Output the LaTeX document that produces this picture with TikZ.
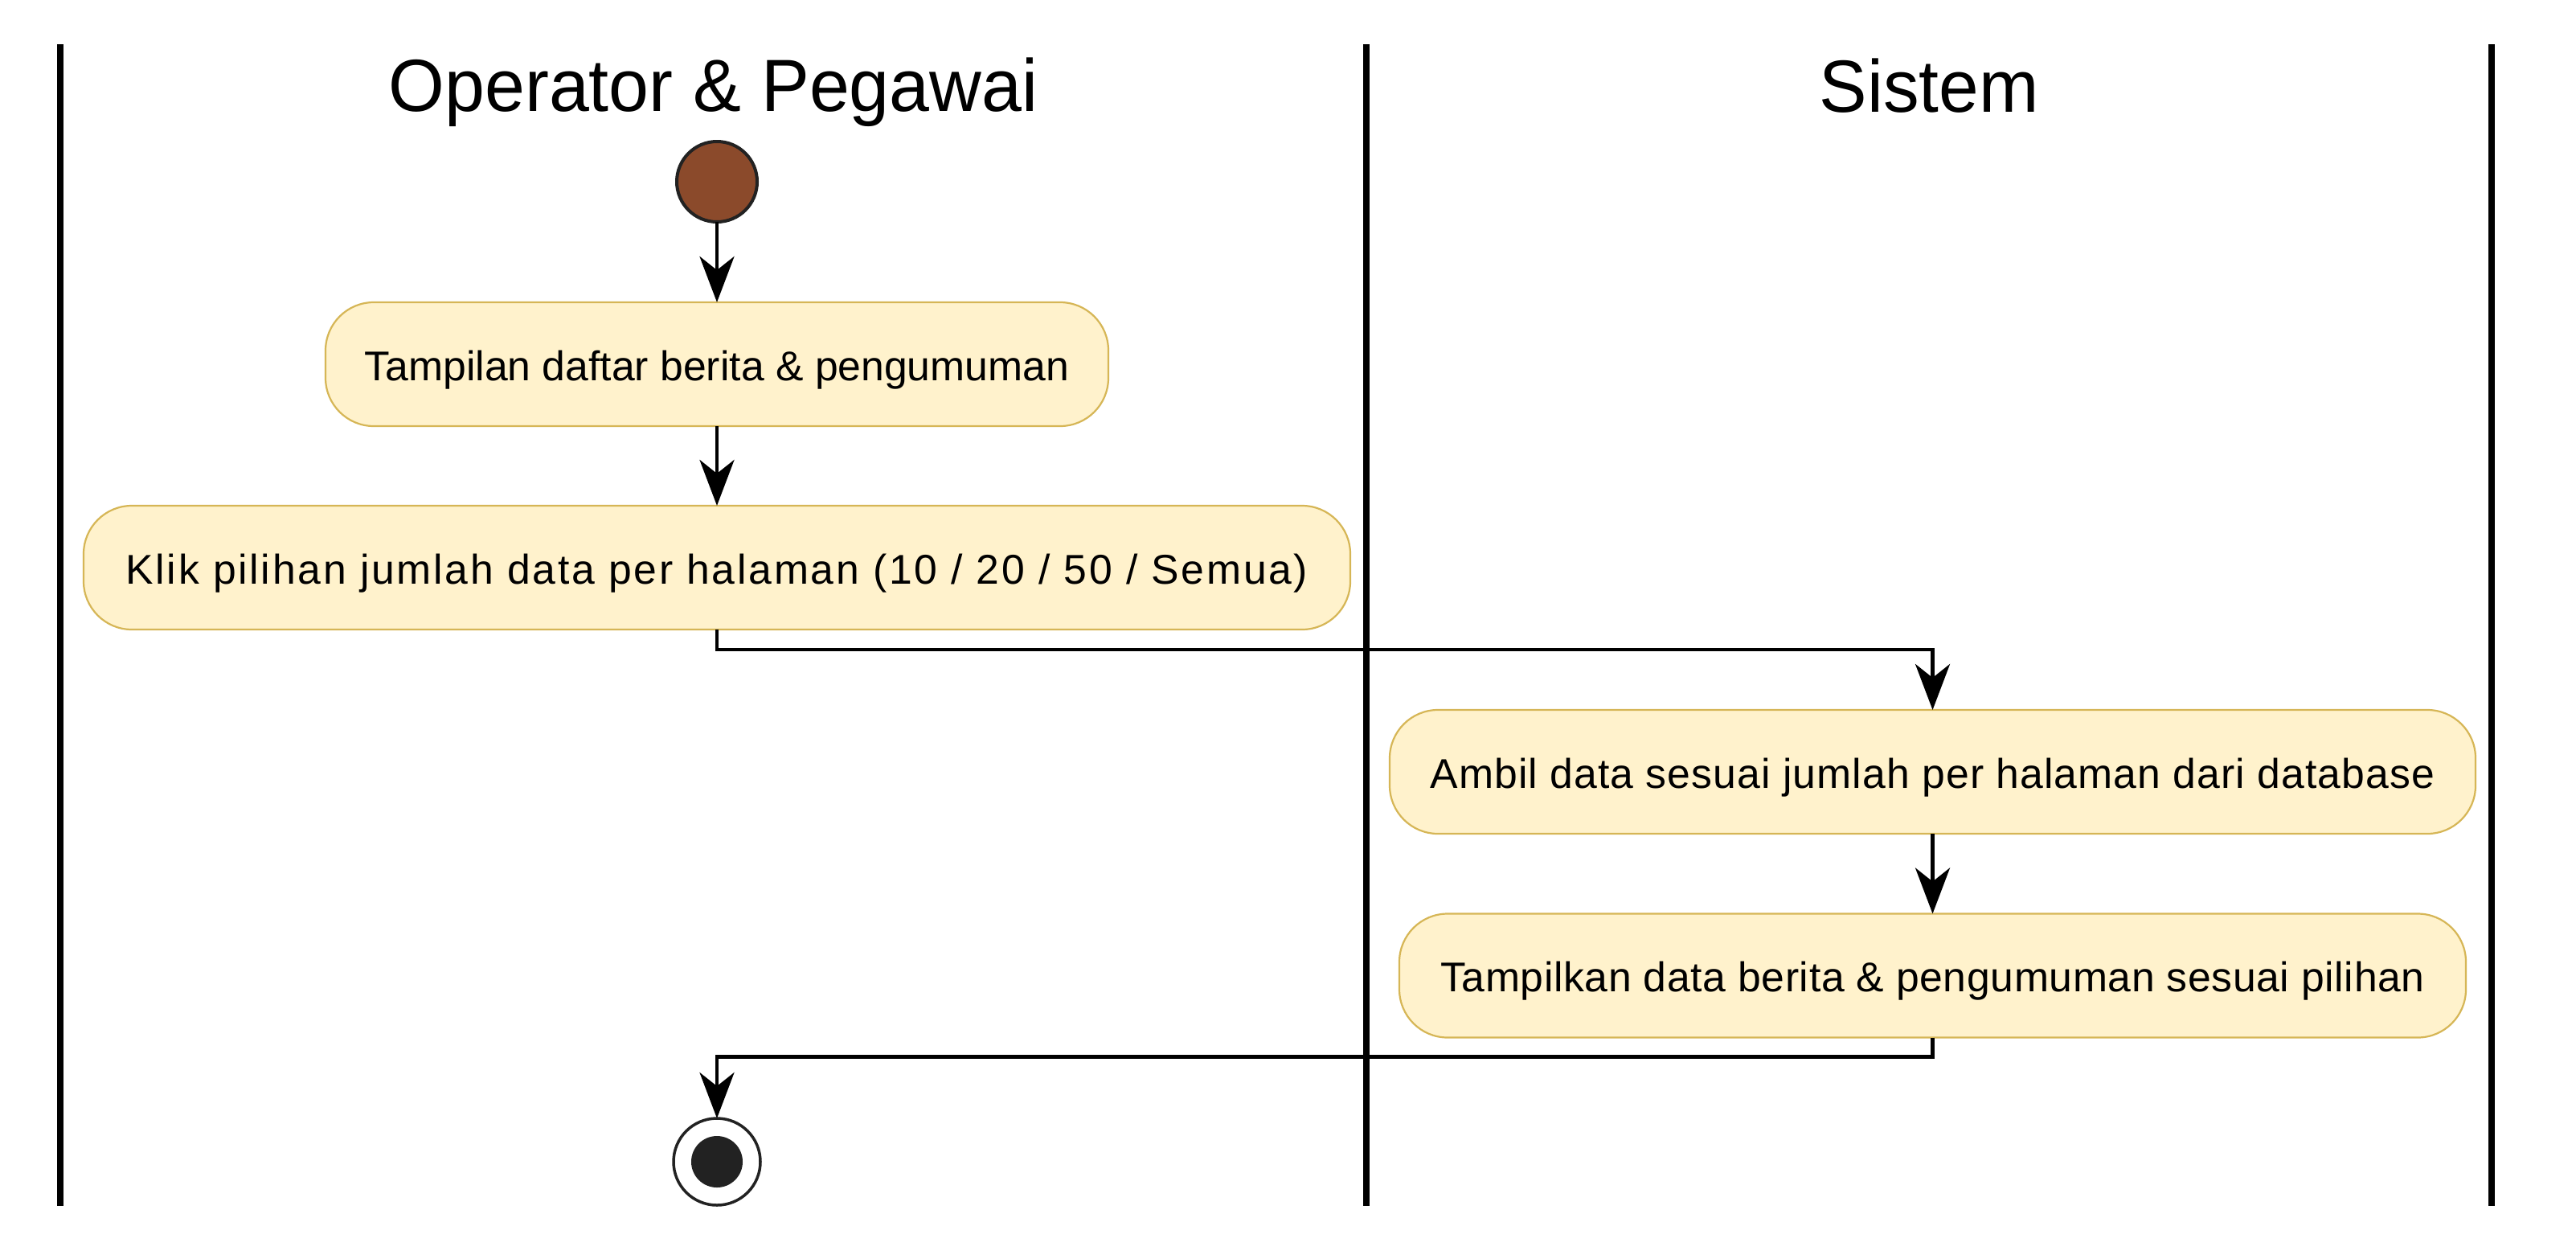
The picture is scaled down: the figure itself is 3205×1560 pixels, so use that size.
\documentclass[tikz,border=0pt]{standalone}
\usepackage{graphicx}
\usepackage{fontspec}
\setmainfont{Liberation Sans}
\usetikzlibrary{arrows.meta}
\definecolor{actfill}{HTML}{FFF2CC}
\definecolor{actline}{HTML}{D6B656}
\definecolor{startfill}{HTML}{8B4A2B}
\definecolor{darkink}{HTML}{222222}
\newcommand\actfont{\fontsize{25.85pt}{31pt}\selectfont}
\newcommand\lanefont{\fontsize{46pt}{54pt}\selectfont}
\begin{document}
\begin{tikzpicture}[x=0.5pt,y=-0.5pt,
  act/.style={draw=actline, line width=1.1pt, fill=actfill, rounded corners=30pt,
    minimum height=77pt, inner sep=0pt, outer sep=0pt,
    text height=20pt, text depth=0pt, font=\actfont},
  flow/.style={line width=2.4pt, draw=black,
    -{Stealth[length=28.5pt,width=21.5pt,inset=8.5pt]}},
  laneline/.style={line width=4pt, draw=black},
  lanetitle/.style={anchor=base, font=\lanefont},
  startnode/.style={circle, draw=darkink, line width=2pt, fill=startfill,
    minimum size=50pt, inner sep=0pt, outer sep=0pt},
  stopnode/.style={circle, draw=darkink, line width=1.75pt, fill=white,
    minimum size=54pt, inner sep=0pt, outer sep=0pt},
  stopdot/.style={circle, fill=darkink, minimum size=32pt, inner sep=0pt}]
\path[use as bounding box, fill=white] (0,0) rectangle (3205,1560);

% swimlane borders
\coordinate (l1t) at (75,55);   \coordinate (l1b) at (75,1500);
\coordinate (l2t) at (1700,55); \coordinate (l2b) at (1700,1500);
\coordinate (l3t) at (3100,55); \coordinate (l3b) at (3100,1500);
\draw[laneline] (l1t) -- (l1b);
\draw[laneline] (l2t) -- (l2b);
\draw[laneline] (l3t) -- (l3b);

% lane titles
\node[lanetitle] (t1) at (887.5,138) {\scalebox{0.975}[1]{Operator \& Pegawai}};
\node[lanetitle] (t2) at (2400,139) {\scalebox{0.97}[1]{Sistem}};

% nodes
\node[startnode] (start) at (892,226) {};
\node[act, minimum width=487pt] (b1) at (892,453) {Tampilan daftar berita \& pengumuman};
\node[act, minimum width=788pt] (b2) at (892,706) {\addfontfeatures{LetterSpace=5.3}Klik pilihan jumlah data per halaman (10 / 20 / 50 / Semua)};
\node[act, minimum width=675.5pt] (b3) at (2404.5,960) {\addfontfeatures{LetterSpace=2.1}Ambil data sesuai jumlah per halaman dari database};
\node[act, minimum width=663.5pt] (b4) at (2404.5,1213.5) {\addfontfeatures{LetterSpace=1.2}Tampilkan data berita \& pengumuman sesuai pilihan};
\node[stopnode] (stop) at (892,1445) {};
\node[stopdot] (stopin) at (stop.center) {};

% connectors
\draw[flow] (start.south) -- (b1.north);
\draw[flow] (b1.south) -- (b2.north);
\draw[flow] (b2.south) -- ++(0,25) -| (b3.north);
\draw[flow] (b3.south) -- (b4.north);
\draw[flow] (b4.south) -- ++(0,24) -| (stop.north);
\end{tikzpicture}
\end{document}
